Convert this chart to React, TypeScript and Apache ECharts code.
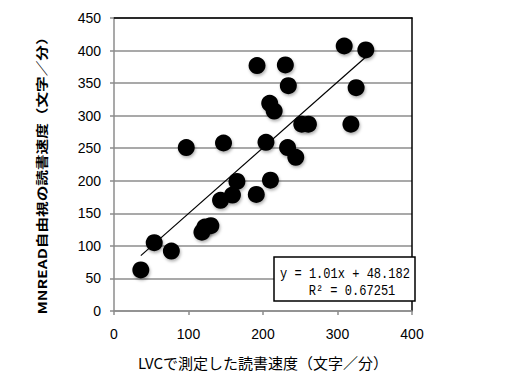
import React, { useEffect, useRef } from "react";
import * as echarts from "echarts";

const lvcSpeed = [36, 54, 77, 97, 118, 122, 130, 143, 147, 159, 165, 191, 192, 204, 209, 210, 215, 230, 233, 234, 244, 252, 261, 309, 318, 325, 338];
const mnreadSpeed = [63, 105, 92, 251, 121, 129, 131, 170, 258, 178, 199, 179, 377, 259, 319, 201, 307, 378, 251, 346, 236, 287, 287, 407, 287, 343, 401];
const trendX = [36, 338];
const trendY = [85, 390];
const xTitle = "LVCで測定した読書速度（文字／分）";
const yTitle = "MNREAD自由視の読書速度（文字／分）";
const eqLine1 = "y = 1.01x + 48.182";
const eqLine2 = "R² = 0.67251";

export default function App() {
  const ref = useRef<HTMLDivElement>(null);
  useEffect(() => {
    if (!ref.current) return;
    const chart = echarts.init(ref.current, null, { renderer: "svg" });
    const pts = lvcSpeed.map((x, i) => [x, mnreadSpeed[i]]);
    const trend = trendX.map((x, i) => [x, trendY[i]]);
    const gray = "#8c8c8c";
    chart.setOption({
      animation: false,
      backgroundColor: "#fff",
      grid: { left: 114, top: 18, width: 298, height: 293, containLabel: false },
      xAxis: [
        {
          type: "value", min: 0, max: 400, interval: 100,
          axisLine: { show: true, lineStyle: { color: gray, width: 1.5 } },
          axisTick: { show: true, inside: false, length: 4, lineStyle: { color: gray, width: 1.5 } },
          axisLabel: { margin: 16, color: "#000", fontSize: 14, fontFamily: "Liberation Sans" },
          splitLine: { show: false },
          name: xTitle, nameLocation: "middle", nameGap: 44,
          nameTextStyle: { color: "#000", fontSize: 15, fontFamily: "Noto Sans CJK JP" },
        },
        {
          type: "value", min: 0, max: 400, position: "top",
          axisLine: { show: true, onZero: false, lineStyle: { color: "#000", width: 1.5 } },
          axisTick: { show: false }, axisLabel: { show: false }, splitLine: { show: false },
        },
      ],
      yAxis: [
        {
          type: "value", min: 0, max: 450, interval: 50,
          axisLine: { show: true, lineStyle: { color: gray, width: 1.5 } },
          axisTick: { show: true, inside: false, length: 4, lineStyle: { color: gray, width: 1.5 } },
          axisLabel: { margin: 13, color: "#000", fontSize: 14, fontFamily: "Liberation Sans" },
          splitLine: { show: true, lineStyle: { color: gray, width: 1.5 } },
        },
        {
          type: "value", min: 0, max: 450, position: "right",
          axisLine: { show: true, onZero: false, lineStyle: { color: "#000", width: 1.5 } },
          axisTick: { show: false }, axisLabel: { show: false }, splitLine: { show: false },
        },
      ],
      series: [
        {
          type: "line", data: trend, xAxisIndex: 0, yAxisIndex: 0,
          symbol: "none", lineStyle: { color: "#000", width: 1.2 }, z: 3,
        },
        {
          type: "scatter", data: pts, xAxisIndex: 0, yAxisIndex: 0,
          symbol: "circle", symbolSize: 17,
          itemStyle: {
            color: "#000", opacity: 1, shadowBlur: 3, shadowColor: "rgba(0,0,0,0.3)",
            shadowOffsetX: 1, shadowOffsetY: 2,
          },
          z: 2,
        },
      ],
      graphic: [
        {
          type: "text", x: 42, y: 172, rotation: Math.PI / 2, scaleX: 0.92, scaleY: 0.72,
          style: {
            text: yTitle, fontSize: 17, fontWeight: "bold", fontFamily: "Noto Sans CJK JP",
            fill: "#000", align: "center", verticalAlign: "middle",
          },
          z: 10,
        },
        {
          type: "rect", shape: { x: 274, y: 257, width: 141, height: 44 },
          style: { fill: "#fff", stroke: "#000", lineWidth: 1.5 }, z: 10,
        },
        {
          type: "text", x: 345, y: 274, scaleX: 0.86,
          style: {
            text: eqLine1, fontSize: 14, fontFamily: "Liberation Mono", fill: "#000",
            align: "center", verticalAlign: "middle",
          },
          z: 11,
        },
        {
          type: "text", x: 352, y: 291, scaleX: 0.86,
          style: {
            text: eqLine2, fontSize: 14, fontFamily: "Liberation Mono", fill: "#000",
            align: "center", verticalAlign: "middle",
          },
          z: 11,
        },
      ],
    });
    return () => chart.dispose();
  }, []);
  return (
    <div
      ref={ref}
      style={{ position: "fixed", left: 0, top: 0, width: 507, height: 377 }}
    />
  );
}
